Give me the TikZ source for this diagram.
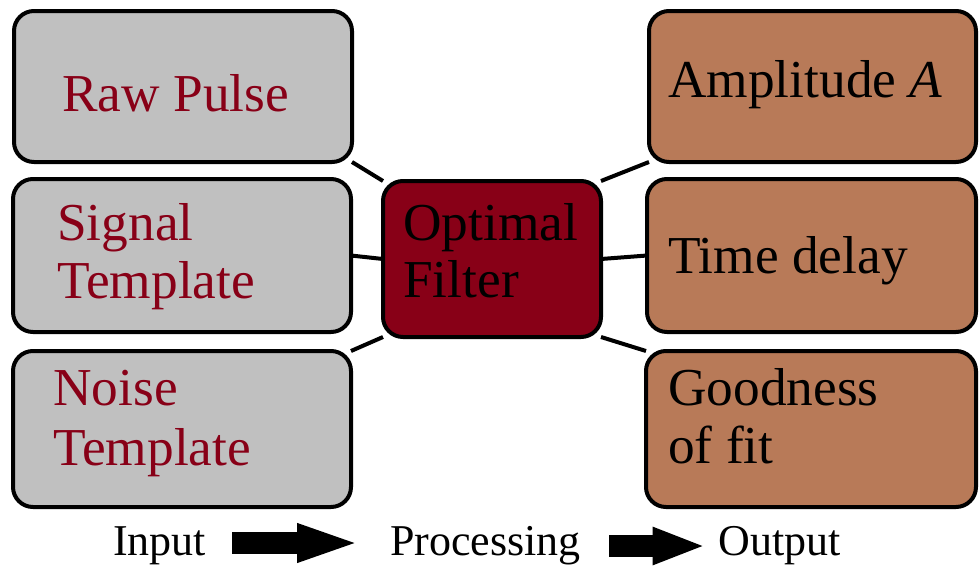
\documentclass[tikz,border=0pt]{standalone}
\usepackage{fontspec}
\setmainfont{Liberation Serif}
\usetikzlibrary{arrows.meta,backgrounds}
\definecolor{boxgray}{RGB}{192,192,192}
\definecolor{darkred}{RGB}{136,0,23}
\definecolor{brownbox}{RGB}{184,122,88}
\begin{document}
\begin{tikzpicture}[x=0.75pt,y=-0.75pt,
  pbox/.style n args={4}{draw=black, line width=3pt, rounded corners=15pt,
     inner sep=0pt, outer sep=0pt, anchor=north west, at={(#1,#2)},
     minimum width={(#3-#1)*0.75pt}, minimum height={(#4-#2)*0.75pt}},
  inbox/.style={fill=boxgray},
  midbox/.style={fill=darkred},
  outbox/.style={fill=brownbox},
  txt/.style={anchor=base west, inner sep=0pt, align=left,
     font=\fontsize{40pt}{43.5pt}\selectfont},
  lab/.style={anchor=base west, inner sep=0pt,
     font=\fontsize{33pt}{36pt}\selectfont},
  conn/.style={draw=black, line width=3pt},
  bigarrow/.style={draw=black, line width=16.5pt}]
\useasboundingbox (0,0) rectangle (979,565);

% boxes
\node[pbox={14}{11}{352}{162}, inbox] (raw) {};
\node[pbox={13}{179}{351}{332}, inbox] (sig) {};
\node[pbox={13}{351}{351}{507}, inbox] (noi) {};
\node[pbox={383}{181}{601}{337}, midbox] (opt) {};
\node[pbox={649}{11}{976}{162}, outbox] (amp) {};
\node[pbox={647}{179}{976}{332}, outbox] (tim) {};
\node[pbox={646}{351}{976}{507}, outbox] (goo) {};

% connectors behind boxes
\begin{scope}[on background layer]
\draw[conn] (raw.south east) -- (opt.north west);
\draw[conn] (sig.east) -- (opt.west);
\draw[conn] (noi.north east) -- (opt.south west);
\draw[conn] (opt.north east) -- (amp.south west);
\draw[conn] (opt.east) -- (tim.west);
\draw[conn] (opt.south east) -- (goo.north west);
\end{scope}

% texts
\node[txt, text=darkred] (trw) at (62,111) {Raw Pulse};
\node[txt, text=darkred] (tsg1) at (57,240) {Signal};
\node[txt, text=darkred] (tsg2) at (57,298) {Template};
\node[txt, text=darkred] (tno1) at (53,405) {Noise};
\node[txt, text=darkred] (tno2) at (53,465) {Template};
\node[txt, text=black] (top1) at (403,240) {Optimal};
\node[txt, text=black] (top2) at (403,297) {Filter};
\node[txt, text=black] (tam) at (668,97) {Amplitude \textit{A}};
\node[txt, text=black] (tti) at (668,273) {Time delay};
\node[txt, text=black] (tgo1) at (668,405) {Goodness};
\node[txt, text=black] (tgo2) at (668,463) {of fit};

% bottom row
\node[lab] (inp) at (113,555) {Input};
\node[lab] (pro) at (390,555) {Processing};
\node[lab] (outp) at (718,555) {Output};

\draw[bigarrow, -{Triangle[length=48.75pt, width=25.5pt]}]
  ([shift={(26,-12)}]inp.base east) -- ([shift={(-28,-12)}]pro.base west);
\draw[bigarrow, -{Triangle[length=40pt, width=25.5pt]}]
  ([shift={(28,-9)}]pro.base east) -- ([shift={(-12,-9)}]outp.base west);
\end{tikzpicture}
\end{document}
